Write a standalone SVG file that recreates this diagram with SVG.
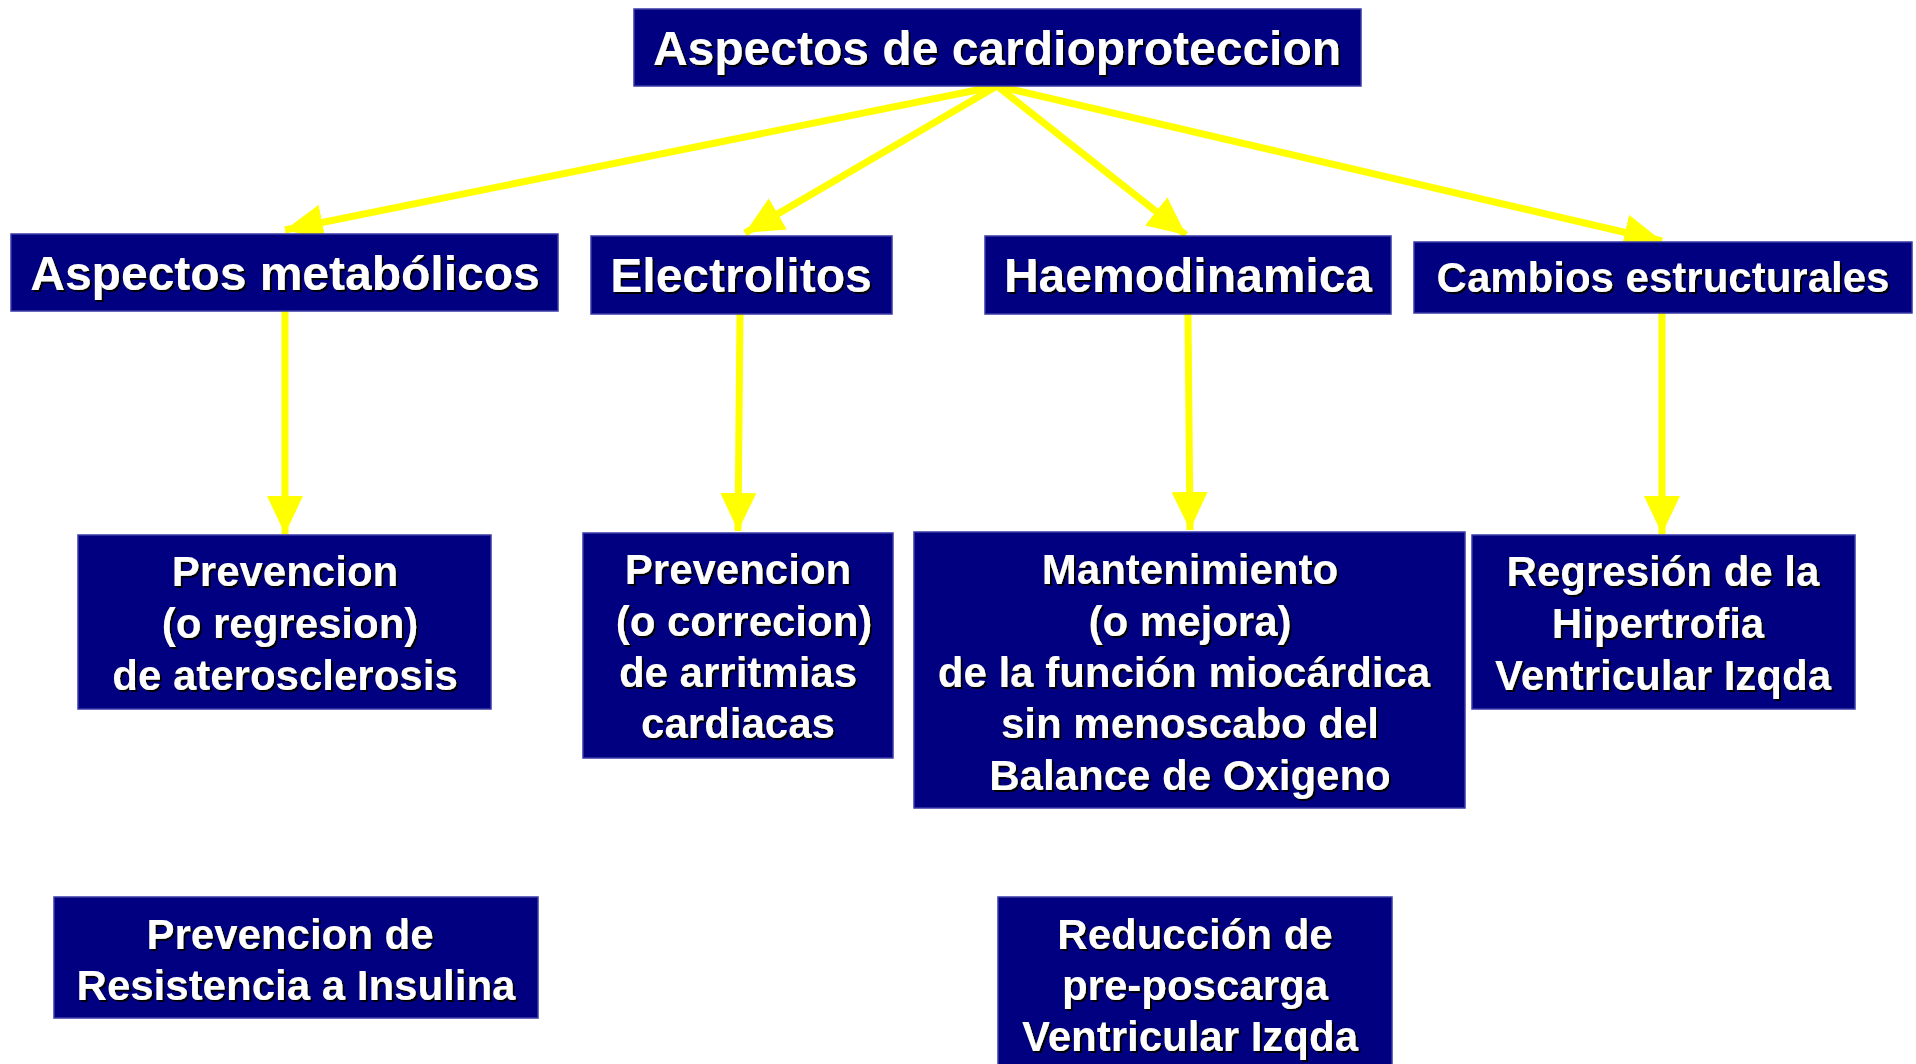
<svg xmlns="http://www.w3.org/2000/svg" width="1916" height="1064" viewBox="0 0 1916 1064">
<style>
.box{fill:#000080;stroke:#3a3aa8;stroke-width:1.5}
.t{font-family:"Liberation Sans",Arial,sans-serif;font-weight:bold;fill:#ffffff;text-anchor:middle;filter:url(#sh)}
.t48{font-size:48px}
.t47{font-size:48px}
.t42{font-size:42px}
.c{stroke:#ffff00;stroke-width:7;fill:none;marker-end:url(#ah)}
</style>
<defs>
<filter id="sh" x="-5%" y="-20%" width="110%" height="140%">
<feDropShadow dx="2" dy="2" stdDeviation="0" flood-color="#000000" flood-opacity="1"/>
</filter>
<marker id="ah" markerUnits="userSpaceOnUse" markerWidth="44" markerHeight="40" refX="38" refY="18" orient="auto">
<path d="M0,0 L38,18 L0,36 Z" fill="#ffff00"/>
</marker>
</defs>
<rect width="1916" height="1064" fill="#ffffff"/>
<g id="connectors">
<line class="c" x1="997" y1="86" x2="285" y2="230"/>
<line class="c" x1="997" y1="86" x2="745" y2="233"/>
<line class="c" x1="997" y1="86" x2="1186" y2="235"/>
<line class="c" x1="997" y1="86" x2="1662" y2="241"/>
<line class="c" x1="285" y1="311" x2="285" y2="534"/>
<line class="c" x1="740" y1="314" x2="738" y2="531"/>
<line class="c" x1="1188" y1="314" x2="1190" y2="530"/>
<line class="c" x1="1662" y1="313" x2="1662" y2="534"/>
</g>
<g id="n-root">
<rect class="box" x="634" y="9" width="727" height="77"/>
<text class="t t48" x="997" y="65">Aspectos de cardioproteccion</text>
</g>
<g id="n-metabolicos">
<rect class="box" x="11" y="234" width="547" height="77"/>
<text class="t t47" x="285" y="290">Aspectos metabólicos</text>
</g>
<g id="n-electrolitos">
<rect class="box" x="591" y="236" width="301" height="78"/>
<text class="t t47" x="741" y="292">Electrolitos</text>
</g>
<g id="n-haemodinamica">
<rect class="box" x="985" y="236" width="406" height="78"/>
<text class="t t47" x="1188" y="292">Haemodinamica</text>
</g>
<g id="n-cambios">
<rect class="box" x="1414" y="242" width="498" height="71"/>
<text class="t t42" x="1663" y="292">Cambios estructurales</text>
</g>
<g id="n-aterosclerosis">
<rect class="box" x="78" y="535" width="413" height="174"/>
<text class="t t42" x="285" y="586">Prevencion</text>
<text class="t t42" x="290" y="638">(o regresion)</text>
<text class="t t42" x="285" y="690">de aterosclerosis</text>
</g>
<g id="n-arritmias">
<rect class="box" x="583" y="533" width="310" height="225"/>
<text class="t t42" x="738" y="584">Prevencion</text>
<text class="t t42" x="744" y="636">(o correcion)</text>
<text class="t t42" x="738" y="687">de arritmias</text>
<text class="t t42" x="738" y="738">cardiacas</text>
</g>
<g id="n-miocardica">
<rect class="box" x="914" y="532" width="551" height="276"/>
<text class="t t42" x="1190" y="584">Mantenimiento</text>
<text class="t t42" x="1190" y="636">(o mejora)</text>
<text class="t t42" x="1184" y="687">de la función miocárdica</text>
<text class="t t42" x="1190" y="738">sin menoscabo del</text>
<text class="t t42" x="1190" y="790">Balance de Oxigeno</text>
</g>
<g id="n-hipertrofia">
<rect class="box" x="1472" y="535" width="383" height="174"/>
<text class="t t42" x="1663" y="586">Regresión de la</text>
<text class="t t42" x="1658" y="638">Hipertrofia</text>
<text class="t t42" x="1663" y="690">Ventricular Izqda</text>
</g>
<g id="n-insulina">
<rect class="box" x="54" y="897" width="484" height="121"/>
<text class="t t42" x="290" y="949">Prevencion de</text>
<text class="t t42" x="296" y="1000">Resistencia a Insulina</text>
</g>
<g id="n-poscarga">
<rect class="box" x="998" y="897" width="394" height="175"/>
<text class="t t42" x="1195" y="949">Reducción de</text>
<text class="t t42" x="1195" y="1000">pre-poscarga</text>
<text class="t t42" x="1190" y="1051">Ventricular Izqda</text>
</g>
</svg>
